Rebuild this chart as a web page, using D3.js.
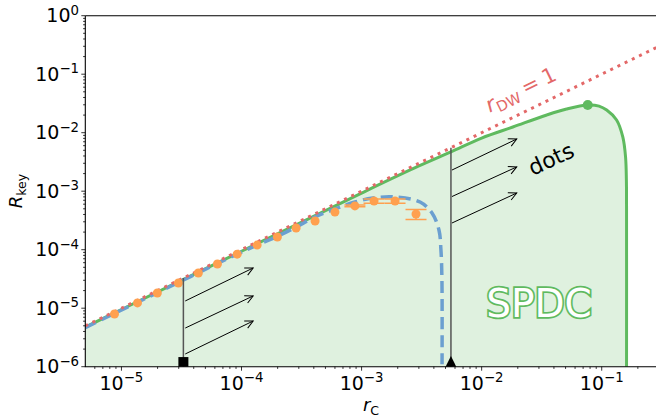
<!DOCTYPE html>
<html lang="en">
<head>
<meta charset="UTF-8">
<title>SPDC key rate</title>
<script src="https://d3js.org/d3.v7.min.js"></script>
<style>
  body { margin: 0; background: #fff; }
  svg { display: block; font-family: "DejaVu Sans", sans-serif; }
</style>
</head>
<body>
<svg id="chart" width="656" height="420"></svg>
<script>
// green (SPDC) boundary curve
const rcGreen = [5e-6, 1e-5, 1e-4, 1e-3, 3e-3, 5.55e-3, 1e-2, 1.82e-2, 3.49e-2, 5.1e-2, 7.65e-2, 0.095, 0.11, 0.133, 0.15, 0.158, 0.1605, 0.161, 0.161];
const rGreen  = [4.75e-6, 9.5e-6, 9.4e-5, 9.3e-4, 2.7e-3, 4.7e-3, 8.1e-3, 1.25e-2, 2.01e-2, 2.54e-2, 2.98e-2, 2.85e-2, 2.44e-2, 1.65e-2, 8.4e-3, 3.84e-3, 1.55e-3, 5e-4, 1e-6];
const peakRc = [7.65e-2], peakR = [2.98e-2];

// blue dashed curve
const rcBlue = [5e-6, 2e-5, 1e-4, 2.1e-4, 2.85e-4, 4.1e-4, 6e-4, 8.8e-4, 1.24e-3, 1.9e-3, 3.07e-3, 3.86e-3, 4.41e-3, 4.58e-3, 4.67e-3, 4.68e-3];
const rBlue  = [4.65e-6, 1.85e-5, 9.1e-5, 1.78e-4, 2.44e-4, 3.63e-4, 4.97e-4, 6.53e-4, 7.65e-4, 7.96e-4, 6.53e-4, 4.24e-4, 2.17e-4, 9.9e-5, 3e-5, 1.1e-6];

// orange data points with error
const rcDots = [8.75e-6, 1.36e-5, 1.99e-5, 2.98e-5, 4.37e-5, 6.3e-5, 9.2e-5, 1.35e-4, 1.99e-4, 2.85e-4, 4.1e-4, 6.0e-4, 8.8e-4, 1.27e-3, 1.9e-3, 2.84e-3];
const rDots  = [7.96e-6, 1.23e-5, 1.82e-5, 2.7e-5, 4.0e-5, 5.7e-5, 8.4e-5, 1.2e-4, 1.65e-4, 2.35e-4, 3.1e-4, 4.4e-4, 5.6e-4, 6.8e-4, 6.8e-4, 4.07e-4];
const errDots = [0, 0, 0, 0, 0, 0, 0, 0, 0, 0, 0, 0, 0.2e-4, 0.55e-4, 0.55e-4, 0.8e-4];

// r_DW = 1 line
const rcDW = [5e-6, 0.3], rDW = [5e-6, 0.3];

// cut lines and markers
const cutRc = [3.28e-5, 5.55e-3];
const cutTop = [3.28e-5, 5.55e-3];
const cutMarkR = 1.2e-6;
const cutShape = ["square", "triangle"];

// arrows
const arrX0 = [3.4e-5, 3.4e-5, 3.4e-5, 5.66e-3, 5.66e-3, 5.66e-3];
const arrX1 = [1.25e-4, 1.25e-4, 1.25e-4, 1.96e-2, 1.96e-2, 1.96e-2];
const arrR0 = [1.33e-5, 4.58e-6, 1.65e-6, 2.3e-3, 8.1e-4, 2.86e-4];
const arrR1 = [4.87e-5, 1.62e-5, 6.04e-6, 7.8e-3, 2.6e-3, 9.3e-4];

const xMajor = [1e-5, 1e-4, 1e-3, 1e-2, 1e-1];
const yMajor = [1e-6, 1e-5, 1e-4, 1e-3, 1e-2, 1e-1, 1];

const svg = d3.select("#chart");
const pLeft = 85.3, pTop = 15.7, pBottom = 366.7;
const x = d3.scaleLog().domain([5e-6, 0.3]).range([pLeft, 659]);
const y = d3.scaleLog().domain([1e-6, 1]).range([pBottom, pTop]);

const green = "#5fba5f", blue = "#6b9fd0", red = "#e36868", orange = "#ffa04f";

svg.append("rect").attr("width", 656).attr("height", 420).attr("fill", "#fff");

const defs = svg.append("defs");
defs.append("clipPath").attr("id", "clip")
  .append("rect").attr("x", pLeft).attr("y", pTop).attr("width", 659 - pLeft).attr("height", pBottom - pTop);
defs.append("marker").attr("id", "head")
  .attr("viewBox", "-10 -6 12 12").attr("refX", 0).attr("refY", 0)
  .attr("markerWidth", 12).attr("markerHeight", 12)
  .attr("markerUnits", "userSpaceOnUse").attr("orient", "auto")
  .append("path").attr("d", "M-8,-4 L0,0 L-8,4")
  .attr("fill", "none").attr("stroke", "#000").attr("stroke-width", 1);

const plot = svg.append("g").attr("clip-path", "url(#clip)");

const curve = d3.curveCatmullRom.alpha(0.5);
const green_pts = rcGreen.map((d, i) => [d, rGreen[i]]);
const blue_pts = rcBlue.map((d, i) => [d, rBlue[i]]);

plot.append("path")
  .attr("d", d3.area().x(d => x(d[0])).y0(pBottom).y1(d => y(d[1])).curve(curve)(green_pts))
  .attr("fill", "#dff1df");

plot.append("path")
  .attr("d", d3.line().x(d => x(d[0])).y(d => y(d[1])).curve(curve)(green_pts))
  .attr("fill", "none").attr("stroke", green).attr("stroke-width", 3);

plot.append("path")
  .attr("d", d3.line().x(d => x(d[0])).y(d => y(d[1])).curve(curve)(blue_pts))
  .attr("fill", "none").attr("stroke", blue).attr("stroke-width", 3.5)
  .attr("stroke-dasharray", "12,6");

plot.append("path")
  .attr("d", d3.line().x(d => x(d)).y((d, i) => y(rDW[i]))(rcDW))
  .attr("fill", "none").attr("stroke", red).attr("stroke-width", 3)
  .attr("stroke-dasharray", "3,5");

// error bars
rcDots.forEach((d, i) => {
  if (!errDots[i]) return;
  const cx = x(d), lo = y(rDots[i] - errDots[i]), hi = y(rDots[i] + errDots[i]);
  const g = plot.append("g").attr("stroke", orange).attr("stroke-width", 1.5);
  g.append("line").attr("x1", cx).attr("x2", cx).attr("y1", lo).attr("y2", hi);
  g.append("line").attr("x1", cx - 10.5).attr("x2", cx + 10.5).attr("y1", lo).attr("y2", lo);
  g.append("line").attr("x1", cx - 10.5).attr("x2", cx + 10.5).attr("y1", hi).attr("y2", hi);
});
plot.selectAll(".dot").data(rcDots).enter().append("circle")
  .attr("cx", d => x(d)).attr("cy", (d, i) => y(rDots[i])).attr("r", 4.5)
  .attr("fill", orange);

plot.append("circle").attr("cx", x(peakRc[0])).attr("cy", y(peakR[0])).attr("r", 5).attr("fill", green);

// cut lines
cutRc.forEach((d, i) => {
  plot.append("line").attr("x1", x(d)).attr("x2", x(d)).attr("y1", y(cutTop[i])).attr("y2", pBottom)
    .attr("stroke", "#555").attr("stroke-width", 1.5);
});
arrX0.forEach((d, i) => {
  plot.append("line").attr("x1", x(d)).attr("y1", y(arrR0[i]))
    .attr("x2", x(arrX1[i])).attr("y2", y(arrR1[i]))
    .attr("stroke", "#000").attr("stroke-width", 1).attr("marker-end", "url(#head)");
});
cutRc.forEach((d, i) => {
  const cx = x(d), cy = y(cutMarkR);
  if (cutShape[i] === "square") {
    plot.append("rect").attr("x", cx - 5).attr("y", cy - 5).attr("width", 10).attr("height", 10).attr("fill", "#000");
  } else {
    plot.append("path").attr("d", `M${cx},${cy - 6} L${cx + 5.5},${cy + 5} L${cx - 5.5},${cy + 5} Z`).attr("fill", "#000");
  }
});

// text annotations
svg.append("text").attr("x", 539).attr("y", 317).attr("text-anchor", "middle")
  .attr("font-size", 39).attr("fill", "#fff").attr("stroke", green).attr("stroke-width", 3.5)
  .attr("paint-order", "stroke").text("SPDC");

svg.append("text").attr("transform", "translate(551,159) rotate(-25)")
  .attr("text-anchor", "middle").attr("dy", "0.35em").attr("font-size", 22).attr("fill", "#000").text("dots");

const dw = svg.append("text").attr("transform", "translate(524,96) rotate(-26)")
  .attr("text-anchor", "middle").attr("font-size", 21).attr("fill", red);
dw.append("tspan").attr("font-style", "italic").text("r");
dw.append("tspan").attr("font-size", "0.7em").attr("dy", 4).text("DW");
dw.append("tspan").attr("dy", -4).text("\u2005=\u20051");

// frame
svg.append("path").attr("d", `M${pLeft},${pTop} H660 M${pLeft},${pTop} V${pBottom} H660`)
  .attr("fill", "none").attr("stroke", "#000").attr("stroke-width", 1.1);

// ticks
const minor = (lo, hi) => {
  const out = [];
  for (let k = -7; k <= 0; k++) for (let m = 2; m <= 9; m++) {
    const v = m * Math.pow(10, k);
    if (v >= lo && v <= hi) out.push(v);
  }
  return out;
};
const ax = svg.append("g").attr("stroke", "#000").attr("stroke-width", 0.8);
xMajor.forEach(v => ax.append("line").attr("x1", x(v)).attr("x2", x(v)).attr("y1", pBottom).attr("y2", pBottom + 4));
minor(5e-6, 0.29).forEach(v => ax.append("line").attr("x1", x(v)).attr("x2", x(v)).attr("y1", pBottom).attr("y2", pBottom + 2.2));
yMajor.forEach(v => ax.append("line").attr("x1", pLeft).attr("x2", pLeft - 4).attr("y1", y(v)).attr("y2", y(v)));
minor(1e-6, 1).forEach(v => ax.append("line").attr("x1", pLeft).attr("x2", pLeft - 2.2).attr("y1", y(v)).attr("y2", y(v)));

function powLabel(sel, v) {
  const e = Math.round(Math.log10(v));
  sel.append("tspan").text("10");
  sel.append("tspan").attr("font-size", "0.7em").attr("dy", -7.5).text(e < 0 ? "\u2212" + (-e) : String(e));
}
xMajor.forEach(v => {
  const t = svg.append("text").attr("x", x(v)).attr("y", pBottom + 23).attr("text-anchor", "middle")
    .attr("font-size", 19).attr("fill", "#000");
  powLabel(t, v);
});
yMajor.forEach(v => {
  const t = svg.append("text").attr("x", 79).attr("y", y(v) + 6.5).attr("text-anchor", "end")
    .attr("font-size", 19).attr("fill", "#000");
  powLabel(t, v);
});

// axis labels
const xl = svg.append("text").attr("x", 371).attr("y", 411).attr("text-anchor", "middle")
  .attr("font-size", 18).attr("fill", "#000");
xl.append("tspan").attr("font-style", "italic").text("r");
xl.append("tspan").attr("font-size", "0.7em").attr("dy", 4).text("C");

const yl = svg.append("text").attr("transform", "translate(22,191) rotate(-90)")
  .attr("text-anchor", "middle").attr("font-size", 18).attr("fill", "#000");
yl.append("tspan").attr("font-style", "italic").text("R");
yl.append("tspan").attr("font-size", "0.7em").attr("dy", 4).text("key");
</script>
</body>
</html>
